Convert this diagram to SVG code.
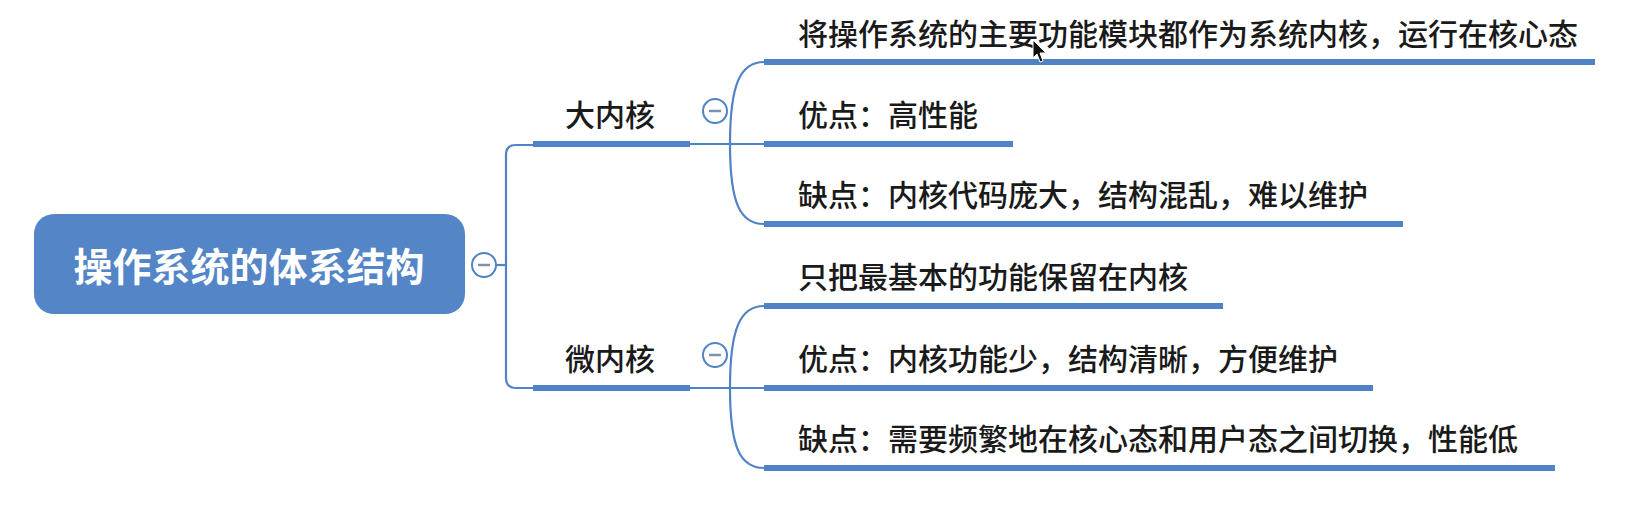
<svg xmlns="http://www.w3.org/2000/svg" width="1625" height="532" viewBox="0 0 1625 532">
<style>
.t{font-family:"Noto Sans CJK SC","Noto Sans",sans-serif;font-size:30px;font-weight:500;fill:#1a1a1a}
.ul{stroke:#5083c6;stroke-width:6;fill:none}
.ln{stroke:#5083c6;stroke-width:2.2;fill:none}
.cc{fill:#fff;stroke:#5083c6;stroke-width:2}
.mn{stroke:#7f8fb0;stroke-width:2.5}
</style>
<rect width="1625" height="532" fill="#fff"/>
<g id="connectors">
<path class="ln" d="M496,265 L506,265"/>
<path class="ln" d="M533,145 L516,145 Q506,145 506,155 L506,378 Q506,388 516,388 L533,388"/>
<path class="ln" d="M690,144 L764,144"/>
<path class="ln" d="M764,62 C740,62 730,85 730,144 C730,203 740,224 764,224"/>
<path class="ln" d="M690,388 L764,388"/>
<path class="ln" d="M764,306 C740,306 730,329 730,388 C730,447 740,468 764,468"/>
</g>
<g id="root">
<rect x="34" y="214" width="431" height="100" rx="20" fill="#5385c7"/>
<text x="249" y="281" text-anchor="middle" style="font-family:'Noto Sans CJK SC','Noto Sans',sans-serif;font-size:39px;font-weight:bold;fill:#fff">操作系统的体系结构</text>
<circle class="cc" cx="484" cy="265" r="12"/><path class="mn" d="M478,265 L490,265"/>
</g>
<g id="big-kernel">
<path class="ul" d="M533,144 L690,144"/>
<text class="t" x="565" y="126">大内核</text>
<circle class="cc" cx="715" cy="111" r="12"/><path class="mn" d="M709,111 L721,111"/>
</g>
<g id="big-1">
<path class="ul" d="M764,62 L1595,62"/>
<text class="t" x="798" y="45">将操作系统的主要功能模块都作为系统内核，运行在核心态</text>
</g>
<g id="big-2">
<path class="ul" d="M764,144 L1013,144"/>
<text class="t" x="798" y="126">优点：高性能</text>
</g>
<g id="big-3">
<path class="ul" d="M764,224 L1403,224"/>
<text class="t" x="798" y="206">缺点：内核代码庞大，结构混乱，难以维护</text>
</g>
<g id="micro-kernel">
<path class="ul" d="M533,388 L690,388"/>
<text class="t" x="565" y="370">微内核</text>
<circle class="cc" cx="715" cy="355" r="12"/><path class="mn" d="M709,355 L721,355"/>
</g>
<g id="micro-1">
<path class="ul" d="M764,306 L1223,306"/>
<text class="t" x="798" y="288">只把最基本的功能保留在内核</text>
</g>
<g id="micro-2">
<path class="ul" d="M764,388 L1373,388"/>
<text class="t" x="798" y="370">优点：内核功能少，结构清晰，方便维护</text>
</g>
<g id="micro-3">
<path class="ul" d="M764,468 L1555,468"/>
<text class="t" x="798" y="450">缺点：需要频繁地在核心态和用户态之间切换，性能低</text>
</g>
<g id="cursor">
<path d="M1033,40 L1033,58 L1037,54 L1040,62 L1043,61 L1040,53 L1046,53 Z" fill="#111" stroke="#fff" stroke-width="1"/>
</g>
</svg>
